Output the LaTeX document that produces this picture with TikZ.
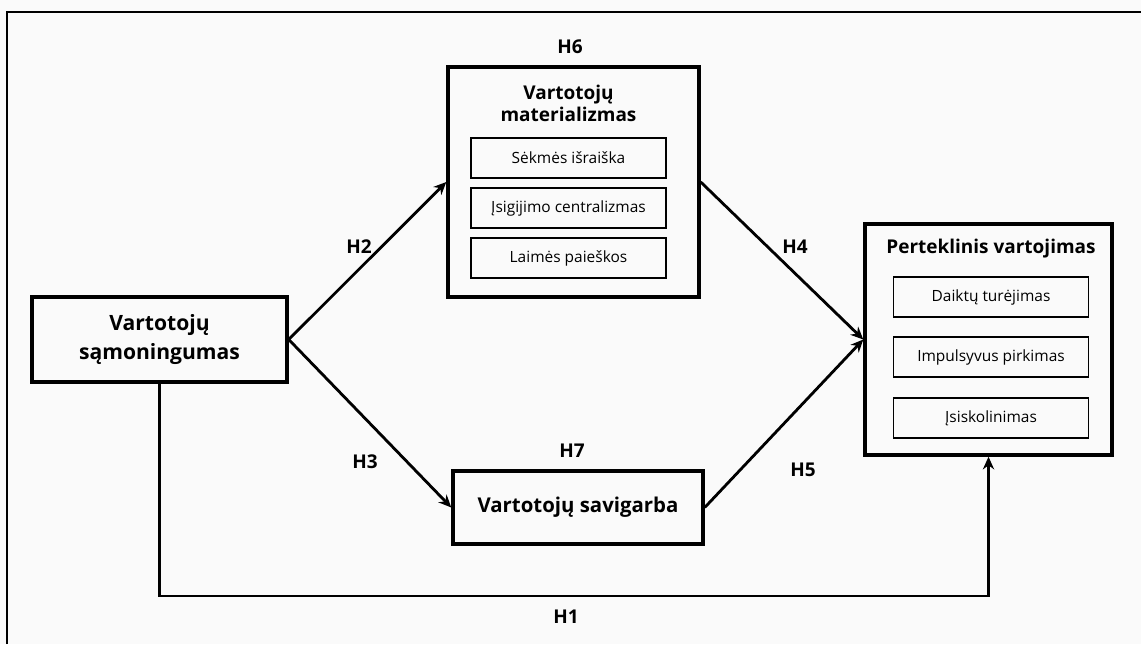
\documentclass[tikz,border=0pt]{standalone}
\usepackage{fontspec}
\setmainfont{Open Sans}
\usetikzlibrary{arrows.meta}
\definecolor{paper}{RGB}{250,250,250}

\begin{document}
\begin{tikzpicture}[x=0.025cm, y=-0.025cm, >={Stealth[length=9pt,width=8pt]},
    mainbox/.style={draw, line width=2.4pt, inner sep=0pt},
    itembox/.style={draw, line width=1.1pt, minimum width=4.875cm, minimum height=1cm,
        inner sep=0pt, font=\fontsize{11}{13}\selectfont},
    boxtitle/.style={align=center, font=\fontsize{13.5}{15.5}\selectfont\bfseries},
    hlabel/.style={font=\fontsize{13.5}{15}\selectfont\bfseries},
    link/.style={->, line width=2pt}]
    \useasboundingbox[fill=paper] (0,0) rectangle (1141,644);
    % Remelis
    \draw[line width=1.6pt] (7,644) -- (7,12) -- (1141,12);

    % Vartotoju samoningumas
    \node[mainbox, minimum width=6.375cm, minimum height=2.125cm] (sam) at (159.5,339.5) {};
    \node[align=center, font=\fontsize{15}{20.5}\selectfont\bfseries] (samt) at (sam) {Vartotojų\\sąmoningumas};

    % Vartotoju materializmas
    \node[mainbox, minimum width=6.275cm, minimum height=5.75cm] (mat) at (573.5,182) {};
    \node[boxtitle] (matt) at (568.5,103) {Vartotojų\\materializmas};
    \node[itembox] (mat1) at (568.5,158) {Sėkmės išraiška};
    \node[itembox] (mat2) at (568.5,208) {Įsigijimo centralizmas};
    \node[itembox] (mat3) at (568.5,258) {Laimės paieškos};
    \node[hlabel] (h6) at (570,47) {H6};

    % Vartotoju savigarba
    \node[mainbox, minimum width=6.25cm, minimum height=1.825cm] (sav) at (578,507.5) {};
    \node[font=\fontsize{14.5}{16}\selectfont\bfseries] (savt) at (sav) {Vartotojų savigarba};
    \node[hlabel] (h7) at (572,451) {H7};

    % Perteklinis vartojimas
    \node[mainbox, minimum width=6.175cm, minimum height=5.775cm] (per) at (988.5,339.5) {};
    \node[boxtitle] (pert) at (991,249) {Perteklinis vartojimas};
    \node[itembox] (per1) at (991,297) {Daiktų turėjimas};
    \node[itembox] (per2) at (991,357) {Impulsyvus pirkimas};
    \node[itembox] (per3) at (991,418) {Įsiskolinimas};

    % Rysiai
    \draw[link] (sam.east) -- (mat.west);
    \draw[link] (sam.east) -- (sav.west);
    \draw[link] (mat.east) -- (per.west);
    \draw[link] (sav.east) -- (per.west);
    \coordinate (h1c) at (159.5,596);
    \draw[link] (sam.south) -- (h1c) -| (per.south);

    \node[hlabel] (h2) at (359,247) {H2};
    \node[hlabel] (h3) at (365,462) {H3};
    \node[hlabel] (h4) at (795,247) {H4};
    \node[hlabel] (h5) at (803,470) {H5};
    \node[hlabel] (h1) at (566,617) {H1};
\end{tikzpicture}
\end{document}
